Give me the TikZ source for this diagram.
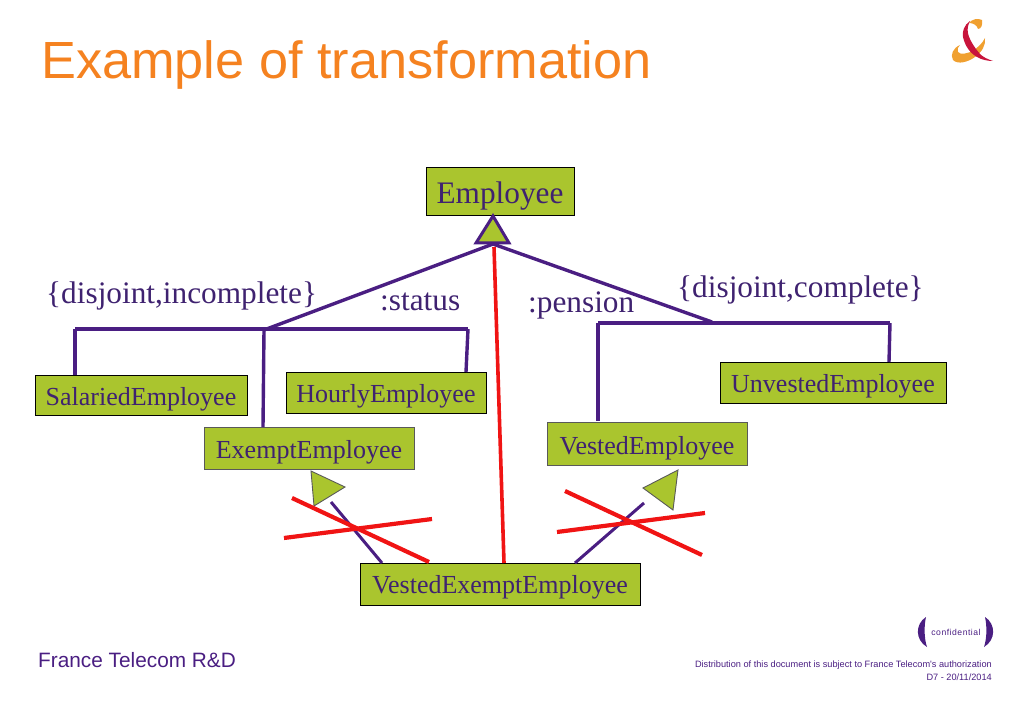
\documentclass[tikz,border=0pt]{standalone}
\usepackage{fontspec}
\setmainfont{Liberation Serif}
\newfontfamily\arialf{Liberation Sans}
\newfontfamily\arialspaced[LetterSpace=6]{Liberation Sans}
\definecolor{boxgreen}{HTML}{AAC52E}
\definecolor{ink}{HTML}{4A1E82}
\definecolor{txt}{HTML}{3F2270}
\definecolor{orangeT}{HTML}{F58220}
\definecolor{redL}{HTML}{F01414}
\definecolor{logoR}{HTML}{C8143C}
\definecolor{logoO}{HTML}{F0A030}
\begin{document}
\begin{tikzpicture}[x=1pt,y=-1pt,
 cls/.style={draw=black,line width=0.9pt,fill=boxgreen,text=txt,font=\fontsize{26}{30}\selectfont,inner sep=0pt,anchor=center,text height=20pt,text depth=0pt},
 lbl/.style={text=txt,font=\fontsize{31.3}{34}\selectfont,inner sep=0pt},
 assoc/.style={draw=ink,line width=3.4pt},
 cross/.style={draw=redL,line width=4.2pt},
 tri/.style={draw=ink,fill=boxgreen,line width=3pt,line join=miter},
 tri2/.style={draw=black!65,fill=boxgreen,line width=0.9pt},
 foot/.style={text=ink,inner sep=0pt,font=\arialf\fontsize{9.2}{11}\selectfont}]
\useasboundingbox (0,0) rectangle (1023,708);
\node[inner sep=0pt,anchor=west,text=orangeT,font=\arialf\fontsize{52.3}{60}\selectfont] (title) at (41,65) {Example of transformation};
% classes
\node[cls,minimum width=148pt,minimum height=48pt,font=\fontsize{31.3}{36}\selectfont,text height=25pt] (emp) at (500,191) {Employee};
\node[cls,minimum width=212pt,minimum height=40pt,text height=21pt] (sal) at (141,395) {SalariedEmployee};
\node[cls,minimum width=200pt,minimum height=41pt] (hou) at (386,392.5) {HourlyEmployee};
\node[cls,minimum width=210pt,minimum height=42pt,draw=black!65] (exe) at (309,448) {ExemptEmployee};
\node[cls,minimum width=200pt,minimum height=43pt,draw=black!65,text height=21pt] (ves) at (647,443.5) {VestedEmployee};
\node[cls,minimum width=226pt,minimum height=41pt,text height=21pt] (unv) at (833,382.5) {UnvestedEmployee};
\node[cls,minimum width=280pt,minimum height=42pt,text height=19pt] (vee) at (500,584) {VestedExemptEmployee};
% generalisation triangle
\coordinate (apex) at (493,216);
\coordinate (tl) at (476,243);
\coordinate (tr) at (509,243);
\coordinate (j1) at (264,330);
\coordinate (j2) at (712,322);
\coordinate (tb) at (493,244);
\draw[assoc] (tb) -- (j1);
\draw[assoc] (tb) -- (j2);
\draw[tri] (apex) -- (tl) -- (tr) -- cycle;
\coordinate (l0) at (75,329);
\coordinate (l1) at (468,329);
\coordinate (r0) at (598,323);
\coordinate (r1) at (890,323);
\draw[assoc] (l0) -- (l1);
\draw[assoc] (r0) -- (r1);
\draw[assoc] (l0) -- (75,375);
\draw[assoc] (l1) -- (466,372);
\draw[assoc] (j1) -- (263,427);
\draw[assoc] (r0) -- (598,421);
\draw[assoc] (r1) -- (889,362);
% red vertical
\coordinate (rv) at (504,563);
\draw[redL,line width=3.6pt] (494,247) -- (rv);
% lower triangles
\coordinate (a1) at (331,502);
\coordinate (b1) at (382,563);
\draw[assoc,line width=3pt] (a1) -- (b1);
\draw[tri2] (311,471) -- (345,487) -- (314,506) -- cycle;
\coordinate (a2) at (644,503);
\coordinate (b2) at (575,563);
\draw[assoc,line width=3pt] (a2) -- (b2);
\draw[tri2] (678,470) -- (643,488) -- (673,510) -- cycle;
% crosses
\coordinate (c1a) at (292,498);
\coordinate (c1b) at (429,562);
\coordinate (c1c) at (284,538);
\coordinate (c1d) at (432,519);
\draw[cross] (c1a) -- (c1b);
\draw[cross] (c1c) -- (c1d);
\coordinate (c2a) at (565,491);
\coordinate (c2b) at (702,555);
\coordinate (c2c) at (557,532);
\coordinate (c2d) at (705,513);
\draw[cross] (c2a) -- (c2b);
\draw[cross] (c2c) -- (c2d);
% labels
\node[lbl,anchor=west] (dis1) at (46,296) {\{disjoint,incomplete\}};
\node[lbl,anchor=west] (sta) at (380,302) {:status};
\node[lbl,anchor=west] (pen) at (528,305) {:pension};
\node[lbl,anchor=west] (dis2) at (677,290) {\{disjoint,complete\}};
% footer
\node[inner sep=0pt,anchor=west,text=ink,font=\arialf\fontsize{20.8}{24}\selectfont] (ft) at (38,660) {France Telecom R\&D};
\node[foot,anchor=east] (dist) at (992,665) {Distribution of this document is subject to France Telecom's authorization};
\node[foot,anchor=east] (date) at (992,677) {D7 - 20/11/2014};
\node[inner sep=0pt,text=ink,font=\arialspaced\fontsize{8.6}{11}\selectfont] (conf) at (956,632) {confidential};
\fill[ink] (926,617) .. controls (915,624) and (915,640) .. (927,647) .. controls (924,638) and (924,626) .. (926,617) -- cycle;
\fill[ink] (985,617) .. controls (996,624) and (996,640) .. (984,647) .. controls (987,638) and (987,626) .. (985,617) -- cycle;
% logo
\fill[logoO] (969,23) .. controls (972,19) and (978,18) .. (982,20) .. controls (983,25) and (981,29) .. (978,29) .. controls (977,25) and (973,23) .. (969,23) -- cycle;
\fill[logoO] (960,45) .. controls (953,48) and (950,55) .. (953,60) .. controls (958,65) and (968,62) .. (975,57) .. controls (982,52) and (986,45) .. (985,38) .. controls (982,44) and (978,47) .. (974,50) .. controls (968,54) and (960,55) .. (958,52) .. controls (957,49) and (958,47) .. (960,45) -- cycle;
\fill[logoR] (970,21) .. controls (964,25) and (962,32) .. (963,37) .. controls (965,46) and (970,53) .. (977,57) .. controls (982,60) and (988,61) .. (993,61) .. controls (987,59) and (983,57) .. (980,54) .. controls (974,47) and (969,39) .. (968,33) .. controls (967,29) and (968,25) .. (970,21) -- cycle;
\end{tikzpicture}
\end{document}
